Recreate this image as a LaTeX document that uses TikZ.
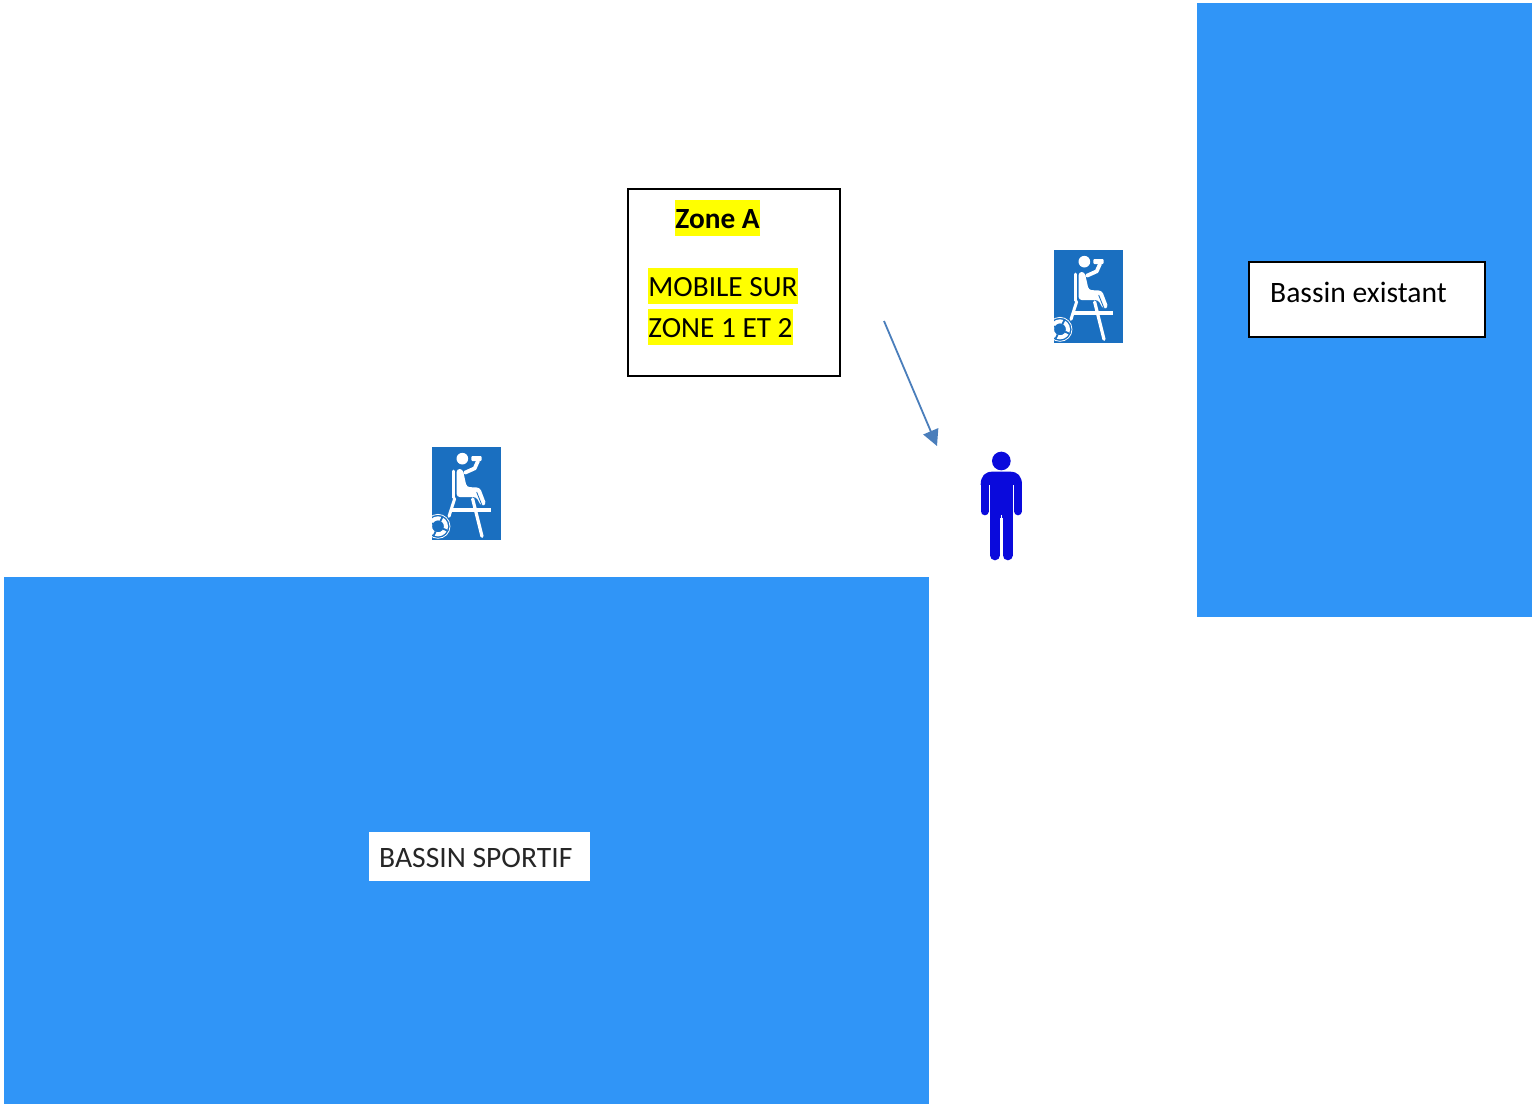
\documentclass[tikz,border=0pt]{standalone}
\usepackage{fontspec}
\setmainfont{Carlito}
\usetikzlibrary{arrows.meta}
\definecolor{pool}{HTML}{3095F7}
\definecolor{iconblue}{HTML}{1A6FC0}
\definecolor{arrowblue}{HTML}{4A7EBB}
\definecolor{personblue}{HTML}{0A0ADC}
\definecolor{hl}{HTML}{FFFF00}
\tikzset{
  poolrect/.style={fill=pool,draw=none},
  hlbox/.style={fill=hl,inner sep=0pt,font=\fontsize{29.3}{29}\selectfont,text height=20pt,text depth=0pt},
  frame/.style={draw=black,line width=2pt,fill=white},
  wl/.style={draw=white,line cap=round,line join=round}
}
\newcommand{\lifeguard}[3]{%
\begin{scope}[shift={(#1,#2)},x=0.3333pt,y=-0.3333pt]
  \fill[iconblue] (42,30) rectangle (249,309);
  \fill[white] (133,65) circle (17.5);
  \fill[white,rounded corners=1pt] (160,57) rectangle (191,72);
  \draw[wl,line width=2.8pt] (107,102) -- (107,182);
  \fill[white,rounded corners=3pt] (116,96) -- (134,96) -- (146,150) -- (186,152) -- (205,202) -- (190,208) -- (175,180) -- (116,180) -- cycle;
  \draw[iconblue,line width=3.2pt] (139,109) -- (172,104);
  \draw[wl,line width=3.8pt] (141,107) -- (170,94) -- (180,72);
  \draw[iconblue,line width=0.8pt] (176,165) -- (192,205);
  \fill[white] (103,213) rectangle (218,225);
  \draw[wl,line width=3pt] (110,185) -- (93,238);
  \draw[wl,line width=3.2pt] (164,186) -- (192,298);
  \begin{scope}
    \clip (42,30) rectangle (249,309);
    \draw[white,line width=0.8pt] (60,268) circle (36);
    \draw[white,line width=4pt] (60,268) circle (24);
    \foreach \a in {25,115,205,295}{
      \draw[iconblue,line width=1.8pt] (60,268) ++(\a:17) -- ++(\a:14);
    }
  \end{scope}
\end{scope}%
}
\begin{document}
\begin{tikzpicture}[x=1pt,y=-1pt]
\useasboundingbox (0,0) rectangle (1532,1104);
\fill[white] (0,0) rectangle (1532,1104);
% pools
\path[poolrect] (4,577) rectangle (929,1104);
\path[poolrect] (1197,3) rectangle (1532,617);
% pool labels
\node[fill=white,minimum width=221pt,minimum height=49pt,inner sep=0pt] (sport) at (479.5,856.5) {};
\node[anchor=west,inner sep=0pt,text=black!85,font=\fontsize{29.6}{30}\selectfont] (sporttxt) at (379,857.5) {BASSIN SPORTIF};
\node[frame,minimum width=236pt,minimum height=75pt,inner sep=0pt] (exist) at (1367,299.5) {};
\node[anchor=west,inner sep=0pt,font=\fontsize{29.6}{30}\selectfont] (existtxt) at (1270,292) {Bassin existant};
% zone box
\node[frame,minimum width=212pt,minimum height=187pt,inner sep=0pt] (zone) at (734,282.5) {};
\node[hlbox,minimum width=85pt,minimum height=36pt] (zonea) at (717.5,218) {\bfseries Zone A};
\node[hlbox,minimum width=150pt,minimum height=36pt] (mobile) at (723,286) {MOBILE SUR};
\node[hlbox,minimum width=145pt,minimum height=36pt] (zone12) at (720.5,327) {ZONE 1 ET 2};
% arrow
\coordinate (astart) at (884,321);
\coordinate (aend) at (937,446);
\draw[arrowblue,line width=1.8pt,-{Triangle[length=16pt,width=16pt]}] (astart) -- (aend);
% lifeguards
\lifeguard{1040}{240}{}
\lifeguard{418}{437}{}
% person
\begin{scope}[shift={(870,310)},x=0.3333pt,y=-0.3333pt]
  \fill[personblue] (394,453) circle (28);
  \fill[personblue] (332,525) .. controls (332,498) and (345,485) .. (368,485) -- (420,485) .. controls (443,485) and (456,498) .. (456,525) -- cycle;
  \draw[personblue,line width=8pt,line cap=round] (344,522) -- (344,604);
  \draw[personblue,line width=8pt,line cap=round] (444,522) -- (444,604);
  \fill[personblue] (360,500) rectangle (428,625);
  \draw[personblue,line width=10pt,line cap=round] (375,610) -- (375,736);
  \draw[personblue,line width=10pt,line cap=round] (413,610) -- (413,736);
  \draw[white,line width=0.9pt] (357.5,527) -- (357.5,625);
  \draw[white,line width=0.9pt] (430.5,527) -- (430.5,625);
  \draw[white,line width=0.9pt] (394,615) -- (394,755);
\end{scope}
\end{tikzpicture}
\end{document}
